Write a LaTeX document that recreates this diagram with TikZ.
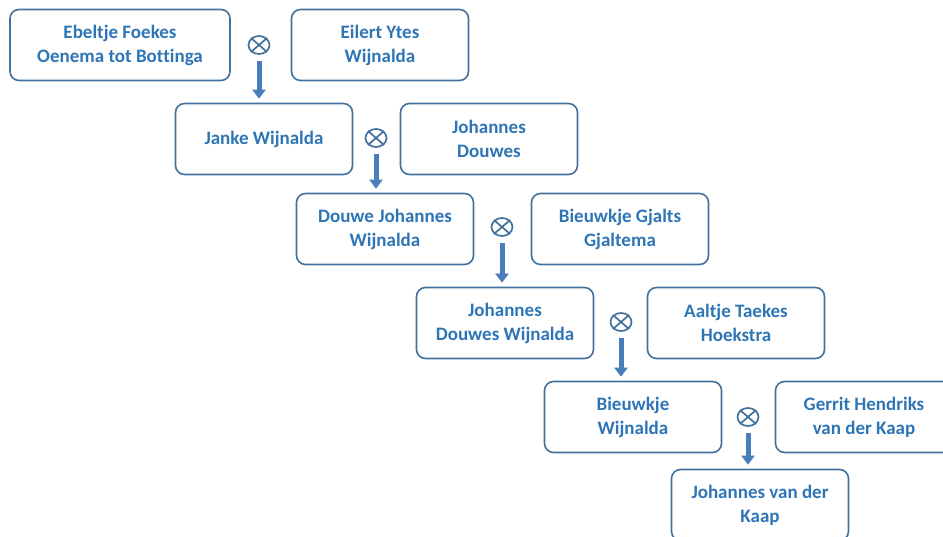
\documentclass[tikz,border=0pt]{standalone}
\usepackage{fontspec}
\setmainfont[Ligatures=NoCommon]{Carlito}
\usetikzlibrary{arrows.meta}
\definecolor{boxline}{HTML}{41719C}
\definecolor{nametext}{HTML}{2E75B6}
\definecolor{arrowfill}{HTML}{4A7EBB}
\tikzset{
  person/.style={draw=boxline, line width=1.6pt, rounded corners=9pt,
    minimum width=177pt, minimum height=71pt, align=center,
    text=nametext, font=\fontsize{19}{24}\selectfont\bfseries},
  marriage/.style={draw=boxline, line width=1.7pt, ellipse, minimum width=21pt, minimum height=18pt, inner sep=0pt},
  descent/.style={-{Triangle[length=9pt,width=13pt]}, line width=5pt, arrowfill,
    shorten <=6pt, shorten >=4pt}
}
\usetikzlibrary{shapes.geometric}
\newcommand{\cross}[1]{\draw[boxline, line width=1.7pt] (#1.north west) -- (#1.south east) (#1.north east) -- (#1.south west);}
\begin{document}
\begin{tikzpicture}[x=1pt, y=-1pt]
  \useasboundingbox (0,0) rectangle (943,537);
  \node[person, minimum width=220pt] (ebeltje) at (120,45) {Ebeltje Foekes\\Oenema tot Bottinga};
  \node[person] (eilert) at (380,45) {Eilert Ytes\\Wijnalda};
  \node[marriage] (m1) at (259,45) {};
  \node[person] (janke) at (264,139) {Janke Wijnalda};
  \node[person] (johannesd) at (489,139) {Johannes\\Douwes};
  \node[marriage] (m2) at (376,138) {};
  \node[person] (douwe) at (385,229) {Douwe Johannes\\Wijnalda};
  \node[person] (bieuwkjeg) at (620,229) {Bieuwkje Gjalts\\Gjaltema};
  \node[marriage] (m3) at (502,227) {};
  \node[person] (johannesdw) at (505,323) {Johannes\\Douwes Wijnalda};
  \node[person] (aaltje) at (736,323) {Aaltje Taekes\\Hoekstra};
  \node[marriage] (m4) at (621,322) {};
  \node[person] (bieuwkjew) at (633,417) {Bieuwkje\\Wijnalda};
  \node[person] (gerrit) at (864,417) {Gerrit Hendriks\\van der Kaap};
  \node[marriage] (m5) at (748,417) {};
  \node[person] (johannesk) at (760,505) {Johannes van der\\Kaap};
  % marriage symbols
  \cross{m1} \cross{m2} \cross{m3} \cross{m4} \cross{m5}
  % descent arrows
  \draw[descent] (m1.south) -- (m1.south |- janke.north);
  \draw[descent] (m2.south) -- (m2.south |- douwe.north);
  \draw[descent] (m3.south) -- (m3.south |- johannesdw.north);
  \draw[descent] (m4.south) -- (m4.south |- bieuwkjew.north);
  \draw[descent] (m5.south) -- (m5.south |- johannesk.north);
\end{tikzpicture}
\end{document}
